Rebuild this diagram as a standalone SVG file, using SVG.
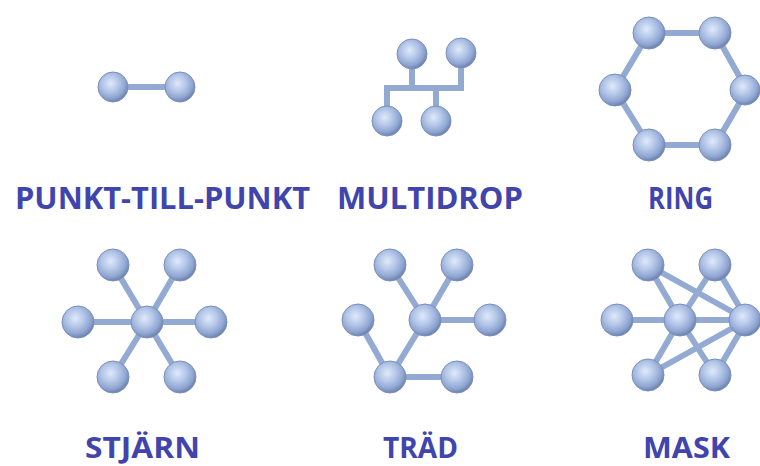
<svg xmlns="http://www.w3.org/2000/svg" width="760" height="466" viewBox="0 0 760 466">
  <defs>
    <radialGradient id="ball" cx="42%" cy="38%" r="62%">
      <stop offset="0" stop-color="#dfe9f9"/>
      <stop offset="0.45" stop-color="#b3c6e8"/>
      <stop offset="0.8" stop-color="#8ea4d0"/>
      <stop offset="1" stop-color="#6d82ae"/>
    </radialGradient>
    <style>
      .n { fill: url(#ball); stroke: #7a8fba; stroke-width: 1; }
      .e { stroke: #93aad3; stroke-width: 6; fill: none; stroke-linecap: butt; }
      .lbl { font-family: "Open Sans", "Noto Sans", "Liberation Sans", sans-serif; font-weight: 700; font-size: 30px; fill: #3f45ad; }
      .low { font-size: 28px; }
    </style>
  </defs>
  <rect width="760" height="466" fill="#ffffff"/>

  <!-- connectors -->
  <g id="connectors" class="e">
    <!-- point to point -->
    <line x1="113" y1="87" x2="180" y2="87"/>
    <!-- multidrop bus -->
    <polyline points="387,121 387,88 461,88 461,54"/>
    <line x1="412" y1="54" x2="412" y2="88"/>
    <line x1="436" y1="88" x2="436" y2="121"/>
    <!-- ring -->
    <polygon points="649,33 715,33 747,90 715,145 649,145 615,90"/>
    <!-- star -->
    <line x1="147" y1="322" x2="113" y2="265"/>
    <line x1="147" y1="322" x2="180" y2="265"/>
    <line x1="147" y1="322" x2="78" y2="322"/>
    <line x1="147" y1="322" x2="213" y2="322"/>
    <line x1="147" y1="322" x2="113" y2="377"/>
    <line x1="147" y1="322" x2="180" y2="377"/>
    <!-- tree -->
    <line x1="425" y1="320" x2="390" y2="265"/>
    <line x1="425" y1="320" x2="457" y2="265"/>
    <line x1="425" y1="320" x2="490" y2="320"/>
    <line x1="425" y1="320" x2="390" y2="377"/>
    <line x1="358" y1="320" x2="390" y2="377"/>
    <line x1="390" y1="377" x2="457" y2="377"/>
    <!-- mesh -->
    <line x1="617" y1="320" x2="680" y2="320"/>
    <line x1="680" y1="320" x2="747" y2="320"/>
    <line x1="648" y1="265" x2="680" y2="320"/>
    <line x1="648" y1="265" x2="747" y2="320"/>
    <line x1="715" y1="265" x2="680" y2="320"/>
    <line x1="715" y1="265" x2="747" y2="320"/>
    <line x1="648" y1="375" x2="680" y2="320"/>
    <line x1="648" y1="375" x2="747" y2="320"/>
    <line x1="715" y1="375" x2="680" y2="320"/>
    <line x1="715" y1="375" x2="747" y2="320"/>
  </g>

  <!-- point to point -->
  <g id="p2p-a"><circle class="n" cx="113" cy="87" r="15"/></g>
  <g id="p2p-b"><circle class="n" cx="180" cy="87" r="15"/></g>

  <!-- multidrop -->
  <g id="md-top-left"><circle class="n" cx="412" cy="54" r="15"/></g>
  <g id="md-top-right"><circle class="n" cx="461" cy="53" r="15"/></g>
  <g id="md-bottom-left"><circle class="n" cx="387" cy="121" r="15"/></g>
  <g id="md-bottom-mid"><circle class="n" cx="436" cy="121" r="15"/></g>

  <!-- ring -->
  <g id="ring-1"><circle class="n" cx="649" cy="33" r="16"/></g>
  <g id="ring-2"><circle class="n" cx="715" cy="33" r="16"/></g>
  <g id="ring-3"><circle class="n" cx="745" cy="90" r="15"/></g>
  <g id="ring-4"><circle class="n" cx="715" cy="145" r="16"/></g>
  <g id="ring-5"><circle class="n" cx="649" cy="145" r="16"/></g>
  <g id="ring-6"><circle class="n" cx="615" cy="90" r="16"/></g>

  <!-- star -->
  <g id="star-hub"><circle class="n" cx="147" cy="322" r="16"/></g>
  <g id="star-tl"><circle class="n" cx="113" cy="265" r="16"/></g>
  <g id="star-tr"><circle class="n" cx="180" cy="265" r="16"/></g>
  <g id="star-l"><circle class="n" cx="78" cy="322" r="16"/></g>
  <g id="star-r"><circle class="n" cx="211" cy="322" r="16"/></g>
  <g id="star-bl"><circle class="n" cx="113" cy="377" r="16"/></g>
  <g id="star-br"><circle class="n" cx="180" cy="377" r="16"/></g>

  <!-- tree -->
  <g id="tree-tl"><circle class="n" cx="390" cy="265" r="16"/></g>
  <g id="tree-tr"><circle class="n" cx="457" cy="265" r="16"/></g>
  <g id="tree-mid"><circle class="n" cx="425" cy="320" r="16"/></g>
  <g id="tree-r"><circle class="n" cx="490" cy="320" r="16"/></g>
  <g id="tree-l"><circle class="n" cx="358" cy="320" r="16"/></g>
  <g id="tree-bm"><circle class="n" cx="390" cy="377" r="16"/></g>
  <g id="tree-br"><circle class="n" cx="457" cy="377" r="16"/></g>

  <!-- mesh -->
  <g id="mesh-tl"><circle class="n" cx="648" cy="265" r="16"/></g>
  <g id="mesh-tr"><circle class="n" cx="715" cy="265" r="16"/></g>
  <g id="mesh-l"><circle class="n" cx="617" cy="320" r="16"/></g>
  <g id="mesh-mid"><circle class="n" cx="680" cy="320" r="16"/></g>
  <g id="mesh-r"><circle class="n" cx="745" cy="320" r="16"/></g>
  <g id="mesh-bl"><circle class="n" cx="648" cy="375" r="16"/></g>
  <g id="mesh-br"><circle class="n" cx="715" cy="375" r="16"/></g>

  <!-- captions -->
  <g id="captions" class="lbl">
    <text x="15" y="209" textLength="295" lengthAdjust="spacingAndGlyphs">PUNKT-TILL-PUNKT</text>
    <text x="337" y="209" textLength="186" lengthAdjust="spacingAndGlyphs">MULTIDROP</text>
    <text x="648" y="209" textLength="65" lengthAdjust="spacingAndGlyphs">RING</text>
    <text class="low" x="85" y="458" textLength="115" lengthAdjust="spacingAndGlyphs">STJÄRN</text>
    <text class="low" x="383" y="458" textLength="75" lengthAdjust="spacingAndGlyphs">TRÄD</text>
    <text class="low" x="643" y="458" textLength="87" lengthAdjust="spacingAndGlyphs">MASK</text>
  </g>
</svg>
